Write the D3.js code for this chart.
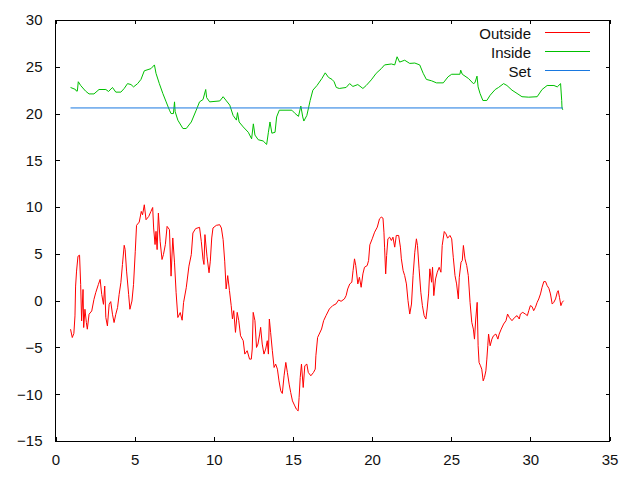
<!DOCTYPE html>
<html>
<head>
<meta charset="utf-8">
<script src="https://cdn.jsdelivr.net/npm/d3@7/dist/d3.min.js"></script>
<style>
  body { margin: 0; background: #fff; }
  svg { display: block; }
  text { font-family: "Liberation Sans", Arial, sans-serif; font-size: 15px; fill: #111; }
</style>
</head>
<body>
<svg id="chart" width="640" height="480"></svg>
<script>
// series as [day, temperature]
const outsideData = [
  [0.95,-3.05],[1.06,-3.94],[1.16,-3.5],[1.23,-1.63],[1.27,1.56],[1.33,3.16],[1.42,4.75],[1.52,4.86],
  [1.59,1.74],[1.65,-2.16],[1.74,1.2],[1.78,-2.87],[1.86,-0.92],[1.95,-2.34],[2.01,-3.05],[2.12,-1.45],
  [2.29,-1.1],[2.43,0.14],[2.54,0.85],[2.71,1.74],[2.82,2.27],[2.92,0.67],[3.03,-0.39],[3.11,1.56],
  [3.18,-1.8],[3.28,-2.7],[3.39,-0.39],[3.49,-0.1],[3.6,-1.45],[3.7,-2.34],[3.81,-1.45],[3.92,-0.74],
  [4.02,0.67],[4.13,1.92],[4.23,3.87],[4.34,5.92],[4.4,5.46],[4.49,3.16],[4.62,0.67],[4.7,-0.92],
  [4.83,-0.04],[4.93,1.74],[5.04,5.28],[5.12,8.05],[5.29,8.4],[5.42,9.54],[5.5,9.18],[5.61,10.25],
  [5.72,8.65],[5.89,9.0],[6.03,9.54],[6.14,9.96],[6.2,7.77],[6.29,6.0],[6.35,7.41],[6.42,5.46],
  [6.5,9.36],[6.61,6.35],[6.73,4.4],[6.82,4.93],[6.94,5.99],[7.05,7.94],[7.2,7.59],[7.3,2.62],
  [7.41,6.7],[7.52,4.04],[7.62,0.85],[7.73,-1.8],[7.88,-1.27],[8.0,-2.09],[8.09,-0.21],[8.26,1.38],
  [8.43,3.69],[8.58,4.93],[8.68,7.23],[8.85,7.7],[9.1,7.84],[9.21,6.35],[9.32,4.4],[9.38,3.87],
  [9.44,7.06],[9.57,4.75],[9.7,2.98],[9.78,4.22],[9.87,6.7],[9.95,7.77],[10.16,8.05],[10.37,8.12],
  [10.48,7.77],[10.59,6.52],[10.69,4.22],[10.78,1.25],[10.88,2.68],[10.99,1.08],[11.1,-0.53],[11.18,-1.96],
  [11.26,-1.07],[11.37,-3.39],[11.48,-1.25],[11.58,-2.14],[11.69,-3.75],[11.86,-4.28],[11.96,-5.71],[12.11,-5.35],
  [12.26,-6.25],[12.37,-6.25],[12.43,-5.17],[12.49,-1.25],[12.6,-2.14],[12.7,-5.0],[12.79,-4.64],[12.9,-3.57],
  [12.96,-2.85],[13.06,-4.64],[13.17,-5.71],[13.28,-5.17],[13.38,-4.28],[13.45,-5.71],[13.51,-1.96],[13.59,-3.39],
  [13.7,-5.35],[13.81,-7.14],[13.91,-6.78],[14.02,-7.32],[14.12,-8.57],[14.23,-9.64],[14.33,-9.92],[14.44,-8.03],
  [14.55,-6.6],[14.65,-7.67],[14.76,-8.92],[14.86,-9.82],[14.97,-10.71],[15.12,-11.25],[15.22,-11.6],[15.33,-11.78],
  [15.39,-10.35],[15.46,-8.21],[15.54,-6.78],[15.65,-9.28],[15.75,-6.96],[15.88,-6.78],[15.97,-7.67],[16.13,-8.03],
  [16.3,-7.67],[16.41,-7.32],[16.45,-5.89],[16.56,-3.93],[16.66,-3.57],[16.81,-3.03],[16.94,-2.14],[17.09,-1.6],
  [17.3,-0.89],[17.51,-0.53],[17.72,-0.35],[17.89,0.08],[18.04,-0.07],[18.25,0.18],[18.36,0.54],[18.46,1.25],
  [18.59,1.79],[18.72,1.97],[18.8,3.22],[18.89,4.47],[18.97,3.75],[19.1,1.79],[19.2,2.5],[19.31,1.43],
  [19.42,2.86],[19.52,3.57],[19.69,3.75],[19.78,4.29],[19.86,5.97],[20.01,6.61],[20.16,7.32],[20.33,7.86],
  [20.47,8.75],[20.58,8.93],[20.69,8.82],[20.75,7.32],[20.79,5.72],[20.86,2.86],[20.92,4.82],[21.0,6.61],
  [21.11,6.79],[21.22,6.43],[21.32,6.79],[21.43,5.72],[21.53,6.97],[21.68,6.97],[21.79,5.72],[21.85,4.47],
  [21.96,3.22],[22.06,2.68],[22.17,1.79],[22.27,0.0],[22.38,-1.43],[22.49,-0.36],[22.59,2.68],[22.7,5.18],
  [22.8,6.61],[22.87,5.9],[22.97,3.4],[23.08,0.9],[23.18,-0.53],[23.29,-1.6],[23.4,-1.96],[23.48,-0.89],
  [23.57,0.72],[23.65,3.4],[23.76,1.97],[23.82,3.57],[23.9,0.54],[24.01,2.32],[24.12,3.04],[24.24,3.57],
  [24.35,3.04],[24.43,5.9],[24.56,7.39],[24.67,7.14],[24.77,6.68],[24.92,6.97],[25.03,6.61],[25.13,4.64],
  [25.24,2.68],[25.34,1.79],[25.45,0.18],[25.51,2.5],[25.62,4.11],[25.7,4.29],[25.77,5.9],[25.87,4.47],
  [25.98,3.75],[26.08,2.68],[26.19,-0.18],[26.3,-2.32],[26.4,-3.04],[26.47,-4.11],[26.55,-1.96],[26.64,-0.18],
  [26.7,-4.82],[26.76,-6.61],[26.85,-6.96],[26.93,-7.32],[27.02,-8.57],[27.1,-8.21],[27.19,-7.5],[27.25,-6.25],
  [27.31,-4.82],[27.36,-3.57],[27.46,-4.82],[27.57,-4.11],[27.67,-3.75],[27.82,-3.57],[27.95,-4.11],[28.03,-3.57],
  [28.16,-3.04],[28.31,-2.5],[28.46,-2.14],[28.56,-1.43],[28.67,-1.79],[28.84,-2.14],[29.01,-1.79],[29.16,-1.6],
  [29.3,-1.96],[29.37,-1.43],[29.52,-1.25],[29.68,-1.43],[29.81,-1.6],[29.9,-1.07],[30.0,-0.53],[30.11,-0.64],
  [30.21,-1.07],[30.32,-0.71],[30.43,-0.18],[30.53,0.18],[30.64,0.72],[30.74,1.43],[30.85,2.04],[30.96,2.04],
  [31.06,1.61],[31.17,1.32],[31.27,0.72],[31.38,-0.36],[31.48,-0.18],[31.59,0.18],[31.7,0.9],[31.76,1.07],
  [31.84,0.36],[31.93,-0.53],[32.01,-0.18],[32.1,0.0]
];

const insideData = [
  [0.95,22.79],[1.27,22.57],[1.3,22.43],[1.38,22.4],[1.44,23.4],[1.59,23.0],[1.9,22.4],[2.12,22.1],
  [2.43,22.1],[2.75,22.57],[3.18,22.57],[3.35,22.36],[3.6,22.79],[3.81,22.29],[4.13,22.29],[4.34,22.68],
  [4.55,23.2],[4.77,23.1],[4.93,22.85],[5.19,23.2],[5.4,23.65],[5.61,24.57],[6.03,24.8],[6.25,25.2],
  [6.35,24.3],[6.56,23.2],[6.78,22.15],[6.99,21.25],[7.2,20.36],[7.3,20.0],[7.45,20.0],[7.52,21.25],
  [7.56,20.2],[7.73,19.29],[8.05,18.4],[8.26,18.4],[8.58,19.1],[8.89,20.36],[9.1,21.25],[9.32,21.5],
  [9.49,22.57],[9.55,21.7],[9.74,21.25],[10.38,21.35],[10.59,21.8],[10.8,21.35],[11.01,20.9],[11.22,19.8],
  [11.43,19.3],[11.5,20.1],[11.6,19.1],[11.86,18.57],[12.18,18.0],[12.39,17.3],[12.5,18.9],[12.6,17.7],
  [12.81,17.2],[13.12,17.07],[13.34,16.7],[13.45,18.0],[13.55,19.1],[13.67,17.9],[13.87,18.0],[13.97,19.64],
  [14.14,20.36],[14.93,20.36],[15.14,20.0],[15.35,19.7],[15.5,20.8],[15.62,19.64],[15.69,19.2],[15.88,19.8],
  [16.09,21.4],[16.26,22.5],[16.52,23.0],[16.83,23.75],[17.04,24.35],[17.25,23.86],[17.47,23.65],[17.6,23.4],
  [17.74,22.79],[17.93,22.68],[18.36,22.79],[18.58,23.2],[18.79,22.9],[19.1,23.1],[19.42,22.68],[19.63,23.0],
  [19.95,23.6],[20.26,24.3],[20.58,24.8],[20.79,25.2],[21.22,25.3],[21.43,25.2],[21.58,26.07],[21.74,25.5],
  [22.06,25.7],[22.38,25.36],[22.7,25.4],[23.01,25.2],[23.23,24.3],[23.43,23.65],[23.76,23.5],[24.07,23.28],
  [24.5,23.28],[24.8,23.93],[25.03,24.2],[25.55,24.2],[25.6,24.64],[25.7,24.2],[26.09,23.75],[26.4,23.2],
  [26.5,23.3],[26.63,24.0],[26.7,22.85],[26.82,22.15],[27.0,21.4],[27.25,21.4],[27.46,21.96],[27.78,22.57],
  [27.99,22.79],[28.31,23.2],[28.52,23.0],[28.84,22.5],[29.16,22.15],[29.47,21.8],[29.9,21.75],[30.43,21.8],
  [30.74,22.57],[31.06,23.0],[31.49,23.0],[31.7,22.85],[31.91,23.2],[31.98,21.4],[32.0,20.6],[32.05,20.4]
];

const setData = [[0.95,20.6],[32.05,20.6]];

const xTicks = [0,5,10,15,20,25,30,35];
const yTicks = [-15,-10,-5,0,5,10,15,20,25,30];
const seriesNames = ["Outside","Inside","Set"];
const seriesColors = ["#ff0000","#00c000","#1878e0"];

const svg = d3.select("#chart");
const plotLeft = 55.5, plotRight = 609.5, plotTop = 20, plotBottom = 441;

const x = d3.scaleLinear().domain([0,35]).range([plotLeft,plotRight]);
const y = d3.scaleLinear().domain([-15,30]).range([plotBottom,plotTop]);

const line = d3.line().x(d => x(d[0])).y(d => y(d[1]));

// frame
svg.append("rect")
  .attr("x", plotLeft).attr("y", plotTop)
  .attr("width", plotRight-plotLeft).attr("height", plotBottom-plotTop)
  .attr("fill","none").attr("stroke","#000").attr("stroke-width",1)
  .attr("shape-rendering","crispEdges");

// axes with inward ticks, mirrored on top/right
const tk = 4;
svg.append("g").attr("transform",`translate(0,${plotBottom})`)
  .call(d3.axisBottom(x).tickValues(xTicks).tickSize(-tk).tickPadding(13).tickFormat(d3.format("d")));
svg.append("g").attr("transform",`translate(0,${plotTop})`)
  .call(d3.axisTop(x).tickValues(xTicks).tickSize(-tk).tickFormat(""));
svg.append("g").attr("transform",`translate(${plotLeft},0)`)
  .call(d3.axisLeft(y).tickValues(yTicks).tickSize(-tk).tickPadding(13).tickFormat(d3.format("d")));
svg.append("g").attr("transform",`translate(${plotRight},0)`)
  .call(d3.axisRight(y).tickValues(yTicks).tickSize(-tk).tickFormat(""));

svg.selectAll(".domain").remove();
svg.selectAll(".tick line").attr("stroke","#000").attr("shape-rendering","crispEdges");
svg.selectAll(".tick text").attr("font-size","15px").attr("font-family","Liberation Sans, Arial, sans-serif").attr("fill","#111");

// series
[outsideData, insideData, setData].forEach((data, i) => {
  svg.append("path")
    .datum(data)
    .attr("fill","none")
    .attr("stroke", seriesColors[i])
    .attr("stroke-width", 1)
    .attr("d", line);
});

// legend
const legend = svg.append("g");
seriesNames.forEach((name, i) => {
  const ly = 32.5 + i*19;
  legend.append("text")
    .attr("x", 531).attr("y", ly + 1)
    .attr("dy","0.35em")
    .attr("text-anchor","end")
    .text(name);
  legend.append("line")
    .attr("x1", 545).attr("x2", 590)
    .attr("y1", ly).attr("y2", ly)
    .attr("stroke", seriesColors[i])
    .attr("stroke-width", 1)
    .attr("shape-rendering","crispEdges");
});
</script>
</body>
</html>
